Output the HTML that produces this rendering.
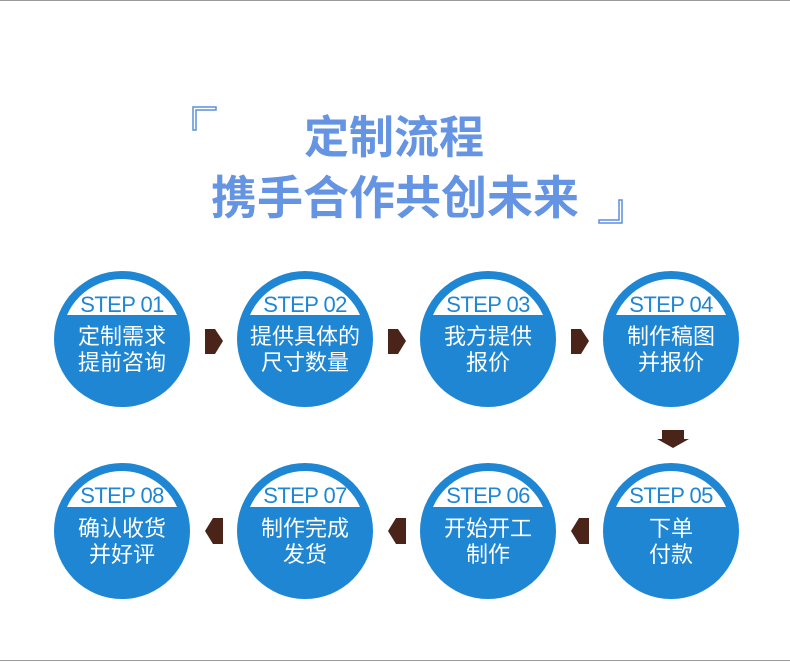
<!DOCTYPE html>
<html><head><meta charset="utf-8"><style>
body{margin:0;width:790px;height:662px;background:#fff;overflow:hidden;position:relative;font-family:"Liberation Sans","Noto Sans CJK SC",sans-serif}
</style></head><body>
<svg width="790" height="662" viewBox="0 0 790 662" style="position:absolute;left:0;top:0">
<line x1="0" y1="0.5" x2="790" y2="0.5" stroke="#999" stroke-width="1"/>
<line x1="0" y1="660.5" x2="790" y2="660.5" stroke="#999" stroke-width="1"/>
<path d="M193 130 V107 H216 V110 H196 V130 Z" fill="none" stroke="#5b8fe0" stroke-width="1.5"/>
<path d="M622 200 V223 H599 V220 H619 V200 Z" fill="none" stroke="#5b8fe0" stroke-width="1.5"/>
<g font-family="'Noto Sans CJK SC',sans-serif" font-weight="700" fill="#6494e2" text-anchor="middle">
<text x="394" y="153" font-size="45">定制流程</text>
<text x="395" y="214" font-size="46">携手合作共创未来</text>
</g>
<defs>
<clipPath id="c"><rect x="-80" y="-80" width="160" height="56"/></clipPath>
<g id="circ">
<circle r="68" fill="#1f86d3"/>
<circle r="60" fill="#fff" clip-path="url(#c)"/>
</g>
</defs>
<g>
<g transform="translate(122,339)"><use href="#circ"/></g>
<g transform="translate(305,339)"><use href="#circ"/></g>
<g transform="translate(488,339)"><use href="#circ"/></g>
<g transform="translate(671,339)"><use href="#circ"/></g>
<g transform="translate(122,531)"><use href="#circ"/></g>
<g transform="translate(305,531)"><use href="#circ"/></g>
<g transform="translate(488,531)"><use href="#circ"/></g>
<g transform="translate(671,531)"><use href="#circ"/></g>
</g>
<g fill="#4a2419">
<path d="M205 329 H215 L223 341 L215 354 H205 Z"/>
<path d="M388 329 H398 L406 341 L398 354 H388 Z"/>
<path d="M571 329 H581 L589 341 L581 354 H571 Z"/>
<path d="M662 430 H684 V439 H689 L673 448 L657 439 H662 Z"/>
<path d="M223 518 H213 L205 531 L213 544 H223 Z"/>
<path d="M406 518 H396 L388 531 L396 544 H406 Z"/>
<path d="M589 518 H579 L571 531 L579 544 H589 Z"/>
</g>
<g font-family="'Liberation Sans',sans-serif" font-size="22" letter-spacing="-0.6" fill="#1f86d3" text-anchor="middle">
<text x="122" y="312">STEP 01</text><text x="305" y="312">STEP 02</text>
<text x="488" y="312">STEP 03</text><text x="671" y="312">STEP 04</text>
<text x="122" y="503">STEP 08</text><text x="305" y="503">STEP 07</text>
<text x="488" y="503">STEP 06</text><text x="671" y="503">STEP 05</text>
</g>
<g font-family="'Noto Sans CJK SC',sans-serif" font-size="22" fill="#fff" text-anchor="middle">
<text x="122" y="344">定制需求</text><text x="122" y="370">提前咨询</text>
<text x="305" y="344">提供具体的</text><text x="305" y="370">尺寸数量</text>
<text x="488" y="344">我方提供</text><text x="488" y="370">报价</text>
<text x="671" y="344">制作稿图</text><text x="671" y="370">并报价</text>
<text x="122" y="536">确认收货</text><text x="122" y="562">并好评</text>
<text x="305" y="536">制作完成</text><text x="305" y="562">发货</text>
<text x="488" y="536">开始开工</text><text x="488" y="562">制作</text>
<text x="671" y="536">下单</text><text x="671" y="562">付款</text>
</g>
</svg>
</body></html>
